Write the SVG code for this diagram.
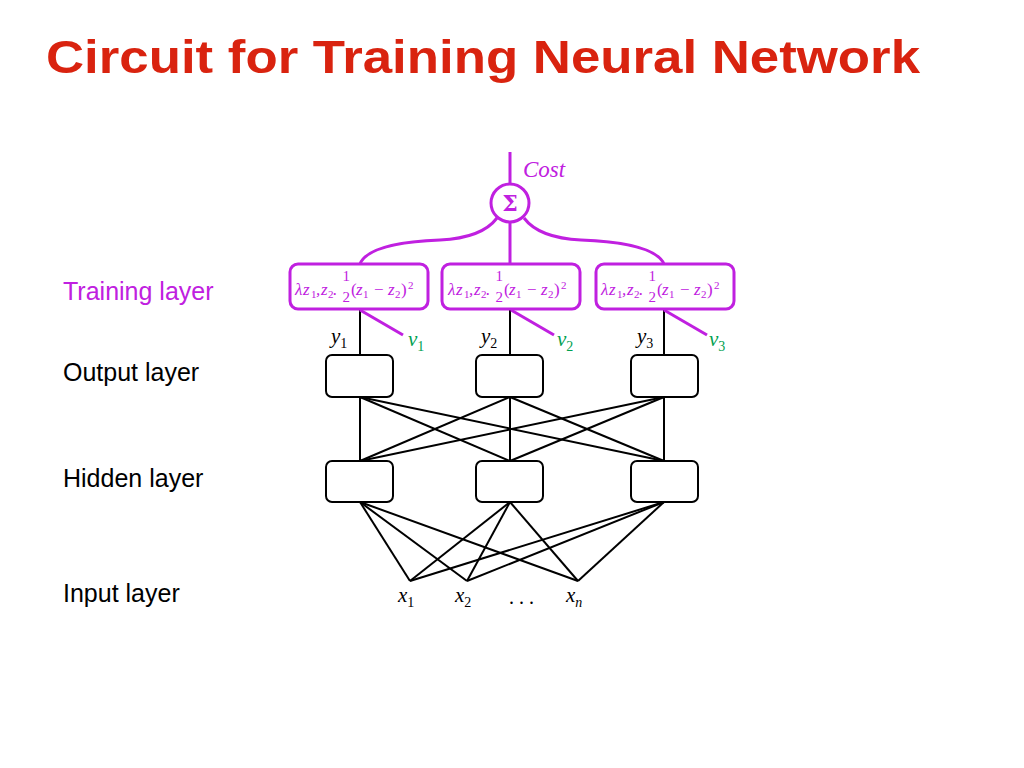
<svg xmlns="http://www.w3.org/2000/svg" width="1024" height="768" viewBox="0 0 1024 768">
<style>
.title{font-family:"Liberation Sans",Arial,sans-serif;font-weight:bold;font-size:46px;fill:#d9230f}
.lbl{font-family:"Liberation Sans",Arial,sans-serif;font-size:25px;fill:#000}
.math{font-family:"Liberation Serif","DejaVu Serif",serif;font-style:italic}
.f{font-size:17px;fill:#c020e0}
.s{font-size:11px;font-style:normal}
.n{font-style:normal}
.fr{font-size:15px;font-style:normal}
.v{font-size:21px}
.sub{font-size:14px;font-style:normal}
.nn{fill:#fff;stroke:#000;stroke-width:2}
.tb{fill:#fff;stroke:#c020e0;stroke-width:3}
.bl{stroke:#000;stroke-width:2;fill:none}
.pl{stroke:#c020e0;stroke-width:3;fill:none}
</style>
<rect width="1024" height="768" fill="#fff"/>
<text class="title" x="46" y="73" textLength="874" lengthAdjust="spacingAndGlyphs">Circuit for Training Neural Network</text>
<g id="layer-labels">
<text class="lbl" x="63" y="300" style="fill:#c020e0">Training layer</text>
<text class="lbl" x="63" y="381">Output layer</text>
<text class="lbl" x="63" y="487">Hidden layer</text>
<text class="lbl" x="63" y="602">Input layer</text>
</g>
<g id="connectors">
<line class="pl" x1="510" y1="152" x2="510" y2="184"/>
<path class="pl" d="M497,218 Q482,238 440,240 Q368,243 360,264"/>
<path class="pl" d="M524,218 Q539,238 581,240 Q655,243 664,264"/>
<line class="pl" x1="510" y1="222" x2="510" y2="264"/>
<line class="bl" x1="360" y1="309" x2="360" y2="355"/>
<line class="bl" x1="510" y1="309" x2="510" y2="355"/>
<line class="bl" x1="664" y1="309" x2="664" y2="355"/>
<line class="pl" x1="360" y1="310" x2="403" y2="335"/>
<line class="pl" x1="511" y1="310" x2="554" y2="335"/>
<line class="pl" x1="664" y1="310" x2="707" y2="335"/>
<g class="bl">
<line x1="360" y1="397" x2="360" y2="461"/>
<line x1="360" y1="397" x2="510" y2="461"/>
<line x1="360" y1="397" x2="664" y2="461"/>
<line x1="510" y1="397" x2="360" y2="461"/>
<line x1="510" y1="397" x2="510" y2="461"/>
<line x1="510" y1="397" x2="664" y2="461"/>
<line x1="664" y1="397" x2="360" y2="461"/>
<line x1="664" y1="397" x2="510" y2="461"/>
<line x1="664" y1="397" x2="664" y2="461"/>
<line x1="360" y1="502" x2="410" y2="581"/>
<line x1="360" y1="502" x2="467" y2="581"/>
<line x1="360" y1="502" x2="578" y2="581"/>
<line x1="510" y1="502" x2="410" y2="581"/>
<line x1="510" y1="502" x2="467" y2="581"/>
<line x1="510" y1="502" x2="578" y2="581"/>
<line x1="664" y1="502" x2="410" y2="581"/>
<line x1="664" y1="502" x2="467" y2="581"/>
<line x1="664" y1="502" x2="578" y2="581"/>
</g>
</g>
<g id="sum">
<circle cx="510" cy="203" r="19" fill="#fff" stroke="#c020e0" stroke-width="3"/>
<text x="510" y="211" text-anchor="middle" font-family="'DejaVu Serif',serif" font-weight="bold" font-size="22" fill="#c020e0">Σ</text>
<text class="math" x="523" y="177" font-size="23" fill="#c020e0">Cost</text>
</g>
<g id="train1">
<rect class="tb" x="290" y="264" width="138" height="45" rx="8"/>
<text class="math f"><tspan x="295" y="295">λ</tspan><tspan x="303" y="295">z</tspan><tspan class="s" x="311" y="298">1</tspan><tspan x="316" y="295">,</tspan><tspan x="321" y="295">z</tspan><tspan class="s" x="328" y="298">2</tspan><tspan x="333" y="295">.</tspan><tspan class="fr" x="342.5" y="281">1</tspan><tspan class="fr" x="342.5" y="302">2</tspan><tspan class="n" x="351" y="295">(</tspan><tspan x="356" y="295">z</tspan><tspan class="s" x="363" y="298">1</tspan><tspan class="n" x="374" y="295">−</tspan><tspan x="388" y="295">z</tspan><tspan class="s" x="395" y="298">2</tspan><tspan class="n" x="401" y="295">)</tspan><tspan class="s" x="408" y="289">2</tspan></text>
</g>
<g id="train2">
<rect class="tb" x="442" y="264" width="138" height="45" rx="8"/>
<text class="math f"><tspan x="448" y="295">λ</tspan><tspan x="456" y="295">z</tspan><tspan class="s" x="464" y="298">1</tspan><tspan x="469" y="295">,</tspan><tspan x="474" y="295">z</tspan><tspan class="s" x="481" y="298">2</tspan><tspan x="486" y="295">.</tspan><tspan class="fr" x="495.5" y="281">1</tspan><tspan class="fr" x="495.5" y="302">2</tspan><tspan class="n" x="504" y="295">(</tspan><tspan x="509" y="295">z</tspan><tspan class="s" x="516" y="298">1</tspan><tspan class="n" x="527" y="295">−</tspan><tspan x="541" y="295">z</tspan><tspan class="s" x="548" y="298">2</tspan><tspan class="n" x="554" y="295">)</tspan><tspan class="s" x="561" y="289">2</tspan></text>
</g>
<g id="train3">
<rect class="tb" x="596" y="264" width="138" height="45" rx="8"/>
<text class="math f"><tspan x="601" y="295">λ</tspan><tspan x="609" y="295">z</tspan><tspan class="s" x="617" y="298">1</tspan><tspan x="622" y="295">,</tspan><tspan x="627" y="295">z</tspan><tspan class="s" x="634" y="298">2</tspan><tspan x="639" y="295">.</tspan><tspan class="fr" x="648.5" y="281">1</tspan><tspan class="fr" x="648.5" y="302">2</tspan><tspan class="n" x="657" y="295">(</tspan><tspan x="662" y="295">z</tspan><tspan class="s" x="669" y="298">1</tspan><tspan class="n" x="680" y="295">−</tspan><tspan x="694" y="295">z</tspan><tspan class="s" x="701" y="298">2</tspan><tspan class="n" x="707" y="295">)</tspan><tspan class="s" x="714" y="289">2</tspan></text>
</g>
<g id="out-labels">
<text class="math v" x="331" y="343">y<tspan class="sub" dy="5">1</tspan></text>
<text class="math v" x="481" y="343">y<tspan class="sub" dy="5">2</tspan></text>
<text class="math v" x="637" y="343">y<tspan class="sub" dy="5">3</tspan></text>
<text class="math v" x="408" y="346" fill="#00a050">v<tspan class="sub" dy="5">1</tspan></text>
<text class="math v" x="557" y="346" fill="#00a050">v<tspan class="sub" dy="5">2</tspan></text>
<text class="math v" x="709" y="346" fill="#00a050">v<tspan class="sub" dy="5">3</tspan></text>
</g>
<g id="out1"><rect class="nn" x="326" y="355" width="67" height="42" rx="6"/></g>
<g id="out2"><rect class="nn" x="476" y="355" width="67" height="42" rx="6"/></g>
<g id="out3"><rect class="nn" x="631" y="355" width="67" height="42" rx="6"/></g>
<g id="hid1"><rect class="nn" x="326" y="461" width="67" height="41" rx="6"/></g>
<g id="hid2"><rect class="nn" x="476" y="461" width="67" height="41" rx="6"/></g>
<g id="hid3"><rect class="nn" x="631" y="461" width="67" height="41" rx="6"/></g>
<g id="inputs">
<text class="math v" x="398" y="602">x<tspan class="sub" dy="5">1</tspan></text>
<text class="math v" x="455" y="602">x<tspan class="sub" dy="5">2</tspan></text>
<text x="509" y="604" font-family="Liberation Serif,serif" font-size="20">. . .</text>
<text class="math v" x="566" y="602">x<tspan class="sub" dy="5" style="font-style:italic">n</tspan></text>
</g>
</svg>
